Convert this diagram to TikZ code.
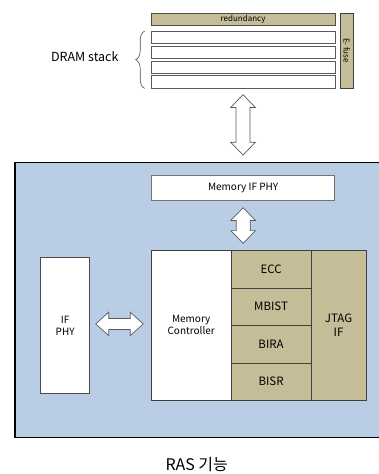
\documentclass[tikz,border=0pt]{standalone}
\usepackage{fontspec}
\setmainfont{Noto Sans CJK KR}
\usetikzlibrary{calc}
\usetikzlibrary{decorations.pathreplacing}

\definecolor{tanfill}{RGB}{196,189,151}
\definecolor{boardfill}{RGB}{185,205,229}
\definecolor{edgegray}{RGB}{90,90,90}

% fat double arrow, vertical: #1 top tip, #2 bottom tip
\newcommand{\vfatarrow}[2]{%
  \draw[fatarrow] (#1) -- ($(#1)+(12.3,12.7)$) -- ($(#1)+(7,12.7)$) -- ($(#2)+(7,-12.7)$)
    -- ($(#2)+(12.3,-12.7)$) -- (#2) -- ($(#2)+(-12.3,-12.7)$) -- ($(#2)+(-7,-12.7)$)
    -- ($(#1)+(-7,12.7)$) -- ($(#1)+(-12.3,12.7)$) -- cycle;}
% fat double arrow, horizontal: #1 left tip, #2 right tip
\newcommand{\hfatarrow}[2]{%
  \draw[fatarrow] (#1) -- ($(#1)+(13,-11.7)$) -- ($(#1)+(13,-5.5)$) -- ($(#2)+(-13,-5.5)$)
    -- ($(#2)+(-13,-11.7)$) -- (#2) -- ($(#2)+(-13,11.7)$) -- ($(#2)+(-13,5.5)$)
    -- ($(#1)+(13,5.5)$) -- ($(#1)+(13,11.7)$) -- cycle;}

\begin{document}
\begin{tikzpicture}[
      x=1pt, y=-1pt,
      whitebox/.style={draw=edgegray, fill=white, line width=0.7pt, inner sep=0pt, anchor=north west, align=center, font=\fontsize{10}{12}\selectfont},
      tanbox/.style={draw=black!75, fill=tanfill, line width=0.7pt, inner sep=0pt, anchor=north west, align=center, font=\fontsize{11.5}{13.5}\selectfont},
      barbox/.style={draw=edgegray, fill=white, line width=0.7pt, inner sep=0pt, anchor=north west, minimum width=184pt, minimum height=12.3pt},
      fatarrow/.style={draw=black!65, fill=white, line width=0.7pt, line join=miter},
      bracestyle/.style={draw=black!70, line width=0.6pt, decorate, decoration={brace, amplitude=9pt}}
    ]

    \useasboundingbox (0,0) rectangle (378,474);

    % ------------------------------------------------------------------ %
    % DRAM stack
    % ------------------------------------------------------------------ %

    \node[barbox, draw=black!70, fill=tanfill, font=\fontsize{8}{9}\selectfont] (redund) at (150.7,12.7) {redundancy};
    \node[tanbox, minimum width=12.7pt, minimum height=75pt] (efuse) at (340,12.7) {};
    \node[rotate=-90, font=\fontsize{8}{9}\selectfont] at (efuse.center) {E- fuse};

    \foreach \i in {1,...,4}
      \node[barbox] (s\i) at (150.7,{31+14.8*(\i-1)}) {};

    \draw[bracestyle] ($(s4.south west)+(-6,0)$) -- ($(s1.north west)+(-6,0)$);
    \node[anchor=east, font=\fontsize{12.5}{14}\selectfont] (dramlbl) at (122,56.5) {DRAM stack};

    % ------------------------------------------------------------------ %
    % Logic die
    % ------------------------------------------------------------------ %

    \node[draw=black, fill=boardfill, line width=1.6pt, inner sep=0pt, anchor=north west,
          minimum width=385pt, minimum height=275pt] (board) at (14,161.5) {};

    \node[whitebox, minimum width=183.3pt, minimum height=25pt, draw=black!55, line width=1pt] (mifphy) at (151,175) {Memory IF PHY};

    \node[whitebox, minimum width=79.7pt, minimum height=150pt, draw=black!75] (mc) at (151,250) {Memory\\Controller};

    \foreach \name/\lbl [count=\k from 0] in {ecc/ECC, mbist/MBIST, bira/BIRA, bisr/BISR}
      \node[tanbox, minimum width=80pt, minimum height=37.5pt] (\name) at (230.7,{250+37.5*\k}) {\lbl};

    \node[tanbox, minimum width=55pt, minimum height=150pt] (jtag) at (310.7,250) {JTAG\\IF};

    \node[whitebox, minimum width=49pt, minimum height=136.7pt, draw=black!70] (ifphy) at (40.3,256.7) {IF\\PHY};

    % ------------------------------------------------------------------ %
    % Arrows
    % ------------------------------------------------------------------ %

    \coordinate (a1) at ($(s4.south)+(0,6.3)$);
    \coordinate (b1) at ($(s4.south |- board.north)+(0,-6.5)$);
    \vfatarrow{a1}{b1}

    \coordinate (a2) at ($(mifphy.south)+(0,6.7)$);
    \coordinate (b2) at ($(mifphy.south |- mc.north)+(0,-6.7)$);
    \vfatarrow{a2}{b2}

    \coordinate (a3) at ($(ifphy.east)+(5.7,-1.5)$);
    \coordinate (b3) at ($(ifphy.east -| mc.west)+(-7.7,-1.5)$);
    \hfatarrow{a3}{b3}

    % ------------------------------------------------------------------ %
    % Caption
    % ------------------------------------------------------------------ %
    \node[font=\fontsize{16}{18}\selectfont] (caption) at (196.7,465) {RAS 기능};

\end{tikzpicture}
\end{document}
